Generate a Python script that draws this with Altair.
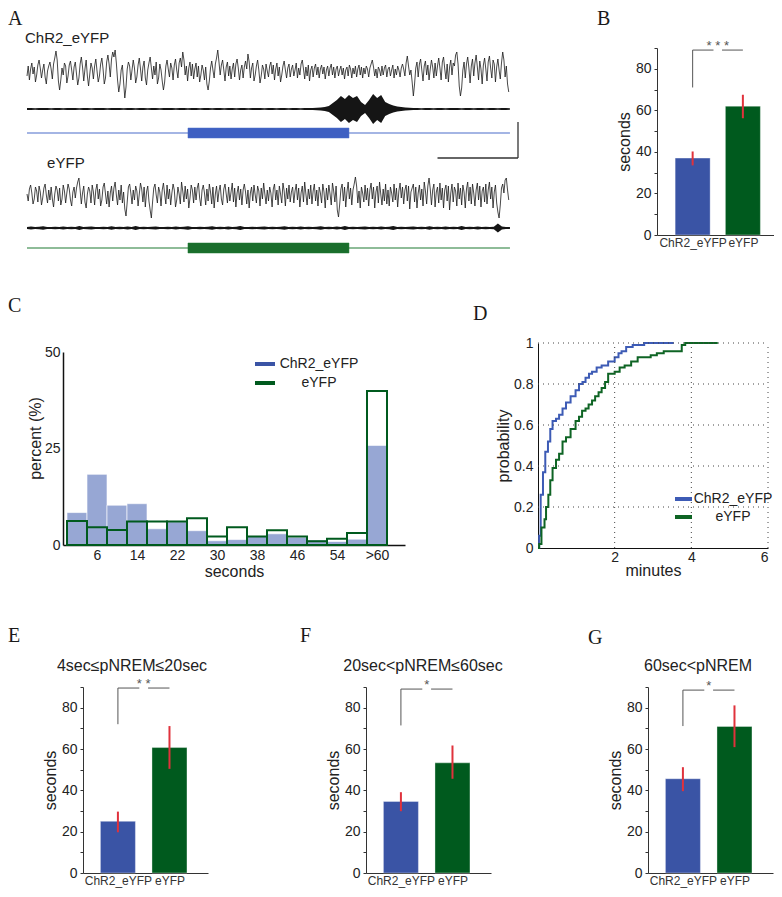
import altair as alt
import pandas as pd

FONT = "Liberation Sans"
SERIF = "Liberation Serif"
INK = "#222222"
BLUE = "#3A54A5"
GREEN = "#005A1E"
RED = "#E0323C"
HIST_BLUE = "#97A7D4"
STIM_BLUE = "#4A6CC9"
STIM_GREEN = "#1E7A32"
BRACKET_GRAY = "#555555"
D_BLUE = "#3D5BB5"
D_GREEN = "#0E6424"
GROUPS = ["ChR2_eYFP", "eYFP"]

# ---------------- Panel A : example traces ----------------
EEG_DT = 0.15
EEG_CHR2 = [
    -4, 6, -8, 3, 9, -2, 5, -10, -3, 7, 12, 4, -6, 2, 8, -5, -12, 1, 6, 10,
    3, -7, 8, 14, 21, 12, -9, -18, -8, 4, -3, 9, 6, -11, -4, 7, 11, 2, -8, 5,
    10, -2, -13, -6, 8, 15, 5, -9, 3, 12, -4, -14, -2, 9, 4, -7, 6, 13, 1, -10,
    -4, 8, 14, 3, -12, -6, 10, 17, 8, -5, 13, 20, 15, 22, 9, -8, -20, -12, 2, 7,
    -10, -26, -15, 3, 10, 6, -8, 2, 12, 4, -11, -5, 7, 14, 3, -9, 5, 11, -6, -13,
    2, 9, 15, 4, -7, 6, -3, 10, -12, -6, 8, 2, -9, -18, -10, 6, 12, 3, -5, 9,
    4, -8, 7, 13, 2, -6, 9, 14, 5, 20, 12, -3, 6, -9, 4, 10, -4, 8, -7, 3,
    9, -5, 6, -10, -3, 7, 2, -8, 5, -12, -18, -9, 4, 11, 2, -6, 8, 14, 22, 10,
    -3, 7, 12, 2, -9, 5, 10, -4, 6, -7, 3, 9, -5, 8, 13, 4, -8, 2, 7, -6,
    5, 11, 3, 18, 10, -6, 4, 9, -9, -3, 6, 12, 2, -11, -4, 7, 3, -7, 8, 1,
    -5, 6, 10, -2, 7, -8, 3, 9, -4, 5, -10, -3, 6, 11, 2, -6, 4, 8, -5, 3,
    7, -4, 2, 9, -6, 4, -3, 8, 12, 3, -7, 5, -4, 7, -9, 2, 6, -5, 4, 8,
    -3, 5, -6, 3, 7, -2, 5, -7, 2, 6, -4, 4, 8, -3, 5, -6, 3, 6, -4, 2,
    6, -3, 4, -7, 2, 5, -4, 7, 3, -6, 4, -2, 6, -5, 3, 7, -3, 5, -6, 4,
    -2, 6, 3, -5, 4, 8, 12, 5, -4, 3, -6, 5, 2, -4, 6, -3, 4, 7, -5, 3,
    5, -4, 2, 7, -6, 3, -3, 6, 2, -5, 4, 8, 3, -4, 9, 16, 6, -3, 2, -10,
    -24, -12, 4, 10, -5, 8, 13, 2, -9, 6, 11, -3, 7, -8, 3, 12, 5, -6, 9, -4,
    6, 14, 4, -8, 10, 15, 3, -7, 8, -10, 5, 12, -3, 9, 6, 17, 20, 8, -14, -24,
    -16, 2, 10, -6, 8, 15, 4, -11, 6, 13, -4, 9, 17, 5, -8, 11, 3, -12, 7, 14,
    3, -9, 10, 16, 4, -6, 12, 8, -10, 5, 13, 2, -7, 9, 20, 12, -5, 6, -12, -20,
]
EEG_EYFP = [
    2, -5, 7, 11, 3, -8, -3, 9, 5, -6, 10, 4, -9, -2, 8, 12, 1, -7, 6, -4,
    9, -3, -11, 2, 10, 6, -5, 8, -9, -3, 11, 5, -7, 3, 12, 7, -4, -10, 4, 9,
    -2, 8, 14, 18, 6, -8, 3, 10, -6, -12, 2, 9, 5, -7, 11, 4, -9, 6, 12, -3,
    7, -10, -4, 9, 13, 2, -8, 5, -11, 3, 10, -5, 8, 14, 1, -9, 6, -4, 11, -7,
    4, -13, -20, -6, 9, 12, 3, -8, 6, -4, 10, 5, -10, 2, 13, 7, -6, 9, -11, 4,
    10, -5, -14, -22, -6, 8, 12, 1, -7, 9, 4, -10, 6, 13, 2, -8, 11, -3, 7, -9,
    3, 12, 6, -11, -4, 9, 2, -8, 14, 5, -6, 10, -3, 7, -12, -2, 11, 6, -7, 9,
    -4, 8, 13, -2, -10, 6, 11, 3, -9, 7, -5, 12, 4, -8, 9, -12, 2, 10, -6, 5,
    11, -3, -9, 7, 12, 2, -7, 9, -5, 4, 13, -6, 8, -11, 3, 10, -4, 7, -9, 6,
    12, 4, -8, 6, -12, 3, 9, -5, 11, 1, -7, 10, 5, -10, 8, -3, 13, 2, -8, 6,
    -5, 9, 3, -11, 7, 12, -4, 6, -9, 10, 2, -7, 13, 5, -10, 8, -3, 11, -6, 4,
    9, -7, 5, 12, -4, 8, -11, 3, 10, -6, 14, 2, -9, 7, -3, 11, -8, 5, 12, -5,
    6, -10, 9, 3, -7, 12, 4, -12, 8, -4, 11, 2, -9, 13, 5, -6, 10, -14, -21, -8,
    7, 12, -5, 9, -11, 4, 14, -3, 8, -9, 6, 12, 19, 10, -7, 5, -12, 9, 3, -6,
    11, -4, 8, -10, 6, 13, -3, 9, -12, 4, 10, -7, 14, 2, -9, 7, -5, 12, -8, 6,
    -10, 9, 3, -6, 12, -4, 8, -11, 5, 13, -2, 9, -8, 6, 11, -5, 10, -13, 4, 8,
    12, -6, 9, -12, 3, 11, -4, 7, -10, 14, 5, -8, 10, 18, 7, -9, 6, 12, -11, 4,
    9, -7, 13, -4, 8, -12, 6, 11, -5, 10, -14, 3, 12, -6, 9, 5, -10, 13, -3, 8,
    -9, 11, 4, -12, 7, 14, -5, 9, -8, 12, 3, -10, 6, 13, -4, 10, -11, 5, 9, -6,
    12, -8, 6, 14, -3, 9, -12, 4, 11, -7, -16, -22, -9, 8, 12, 3, 16, 18, 6, -4,
]
EMG_DT = 0.5
EMG_CHR2 = [
    0.9, 1.0, 0.8, 0.9, 1.0, 0.9, 0.8, 1.0, 0.9, 0.8, 0.9, 1.0, 0.9, 0.8, 1.0, 0.9, 0.8, 0.9,
    1.0, 0.9, 0.8, 0.9, 0.9, 1.0, 0.8, 0.9, 0.9, 0.8, 1.0, 0.9, 0.8, 0.9, 0.9, 0.8, 1.0, 0.9,
    0.9, 0.8, 0.9, 1.0, 0.8, 0.9, 0.9, 0.8, 0.9, 1.0, 0.8, 0.9, 0.9, 0.8, 0.9, 1.0, 0.8, 0.9,
    0.9, 0.8, 0.9, 0.9, 1.0, 0.8, 0.9, 0.9, 0.8, 0.9, 1.0, 0.8, 0.9, 0.9, 0.8, 0.9, 0.9, 1.0,
    1.2, 1.5, 2.0, 3.0, 6, 9, 13, 10, 14, 11, 13, 7, 4, 9, 15, 11, 14, 7, 5, 3.5, 2.5, 2.0, 1.5, 1.2,
    1.0, 0.9, 0.8, 1.0, 0.9, 0.8, 0.9, 0.9, 0.8, 1.0, 0.9, 0.9, 0.8, 0.9, 0.9, 0.8, 1.0, 0.9,
    0.8, 0.9, 0.9, 0.8, 0.9, 0.9, 0.8,
]
EMG_EYFP = [
    1.1, 1.4, 1.0, 1.2, 1.8, 1.1, 1.0, 1.3, 1.1, 1.6, 1.0, 1.2, 1.1, 2.0, 1.0, 1.2, 1.4, 1.1,
    1.0, 1.3, 1.1, 1.7, 1.0, 1.2, 1.1, 1.4, 1.0, 1.9, 1.1, 1.2, 1.0, 1.3, 1.6, 1.1, 1.0, 1.2,
    1.1, 1.4, 1.0, 1.2, 1.8, 1.1, 1.0, 1.3, 1.1, 1.2, 1.7, 1.0, 1.2, 1.1, 1.4, 1.0, 1.2, 2.0,
    1.1, 1.0, 1.3, 1.1, 1.2, 1.6, 1.0, 1.2, 1.1, 1.3, 1.8, 1.0, 1.2, 1.1, 1.4, 1.0, 1.3, 1.1,
    1.2, 1.7, 1.0, 1.2, 1.1, 1.4, 1.0, 1.9, 1.1, 1.2, 1.0, 1.3, 1.6, 1.1, 1.2, 1.0, 1.4, 1.1,
    1.2, 2.0, 1.0, 1.3, 1.1, 1.2, 1.6, 1.0, 1.2, 1.1, 1.8, 1.0, 1.3, 1.1, 1.4, 1.0, 1.2, 1.1,
    1.9, 1.1, 1.2, 1.0, 1.4, 1.1, 1.2, 1.0, 1.3, 4.5, 1.4, 1.1, 1.0,
]
TRACE_END = 60
STIM_WINDOW = [20, 40]
SCALE_BAR_SEC = 10
SCALE_BAR_AMP = 36

# ---------------- Panels B, E, F, G : mean +/- error ----------------
B_MEAN, B_LO, B_HI = [37, 62], [33.5, 56.2], [40.2, 67.5]
B_BRACKET, B_STARS = [71, 89], "* * *"
E_MEAN, E_LO, E_HI = [25, 60.7], [19.7, 50.4], [29.7, 71.1]
E_BRACKET, E_STARS = [72, 89.5], "* *"
F_MEAN, F_LO, F_HI = [34.6, 53.3], [29.9, 45.6], [39.1, 61.7]
F_BRACKET, F_STARS = [71.4, 89], "*"
G_MEAN, G_LO, G_HI = [45.6, 70.9], [39.6, 60.9], [51.2, 81.1]
G_BRACKET, G_STARS = [71.1, 88.5], "*"
BAR_TICKS = [0, 10, 20, 30, 40, 50, 60, 70, 80, 90]

# ---------------- Panel C : histogram (percent) ----------------
C_BIN_EDGES = [0, 4, 8, 12, 16, 20, 24, 28, 32, 36, 40, 44, 48, 52, 56, 60, 64]
C_CHR2 = [8.4, 18.3, 10.3, 10.7, 4.2, 6.0, 3.7, 1.1, 1.4, 2.2, 2.9, 2.0, 1.3, 0.9, 1.5, 25.8]
C_EYFP = [6.2, 4.6, 3.9, 6.1, 6.1, 6.1, 6.9, 2.2, 4.6, 2.2, 3.8, 2.2, 1.0, 1.6, 3.1, 39.9]
C_TICKS = [6, 14, 22, 30, 38, 46, 54, 62]
C_TICK_LABELS = ["6", "14", "22", "30", "38", "46", "54", ">60"]

# ---------------- Panel D : cumulative probability ----------------
D_CHR2_T = [0, 0.03, 0.07, 0.13, 0.19, 0.26, 0.32, 0.38, 0.47, 0.55, 0.64, 0.73, 0.85, 0.98,
            1.07, 1.16, 1.24, 1.33, 1.41, 1.53, 1.66, 1.83, 2.0, 2.1, 2.18, 2.3, 2.47, 2.77, 3.54]
D_CHR2_P = [0, 0.06, 0.26, 0.37, 0.47, 0.52, 0.58, 0.62, 0.63, 0.65, 0.68, 0.71, 0.74, 0.77,
            0.80, 0.81, 0.83, 0.85, 0.86, 0.88, 0.89, 0.91, 0.93, 0.95, 0.96, 0.98, 0.99, 1.0, 1.0]
D_EYFP_T = [0, 0.03, 0.09, 0.17, 0.21, 0.27, 0.32, 0.38, 0.47, 0.55, 0.64, 0.73, 0.85, 0.98,
            1.07, 1.15, 1.24, 1.32, 1.41, 1.49, 1.58, 1.66, 1.75, 1.83, 2.0, 2.13, 2.26, 2.43,
            2.6, 2.77, 2.94, 3.1, 3.28, 3.67, 3.75, 3.84, 4.69]
D_EYFP_P = [0, 0.02, 0.10, 0.14, 0.20, 0.26, 0.33, 0.39, 0.43, 0.46, 0.52, 0.54, 0.58, 0.62,
            0.64, 0.67, 0.68, 0.70, 0.72, 0.74, 0.76, 0.78, 0.81, 0.85, 0.86, 0.88, 0.89, 0.91,
            0.93, 0.93, 0.94, 0.95, 0.96, 0.96, 0.99, 1.0, 1.0]
D_TICKS_Y = [0, 0.2, 0.4, 0.6, 0.8, 1]
D_GRID_Y = [0.2, 0.4, 0.6, 0.8, 1]
D_TICKS_X = [2, 4, 6]

# ---------------- layout (pixel ranges inside one shared plot area) ----------------
W, H = 766, 881
A_XR, A_YR = [19, 510], [250, 20]
B_XR, B_YR = [649, 766], [227, 40]
C_XR, C_YR = [55, 397], [537, 344]
D_XR, D_YR = [530, 760], [540, 335]
E_XR, F_XR, G_XR = [75, 200], [358, 483], [640, 765]
EFG_YR = [865, 679]


def one(**cols):
    return pd.DataFrame({k: [v] for k, v in cols.items()})


def letter(ch, x, y):
    return alt.Chart(one(label=ch)).mark_text(
        font=SERIF, fontSize=20, align="left", baseline="alphabetic", color="#1a1a1a"
    ).encode(x=alt.value(x), y=alt.value(y), text="label:N")


def caption(txt, cx, cy, size=16):
    return alt.Chart(one(label=txt)).mark_text(
        font=FONT, fontSize=size, align="center", baseline="alphabetic", color=INK
    ).encode(x=alt.value(cx), y=alt.value(cy), text="label:N")


def manual_legend(x0, x1, y0, gap, tx, colors):
    layers = []
    for i, (g, c) in enumerate(zip(GROUPS, colors)):
        yy = y0 + i * gap
        layers.append(alt.Chart(one(label=g)).mark_rule(color=c, strokeWidth=4).encode(
            x=alt.value(x0), x2=alt.value(x1), y=alt.value(yy)))
        layers.append(alt.Chart(one(label=g)).mark_text(
            font=FONT, fontSize=14, align="center", baseline="middle", color=INK
        ).encode(x=alt.value(tx), y=alt.value(yy), text="label:N"))
    return layers


# ---------------- panel A ----------------
ROW = dict(eeg1=-44, emg1=-81, stim1=-105, eeg2=-168, emg2=-200, stim2=-220)
STIM_HALF = 5
A_YDOM = [-230, 0]


def xa(field="t"):
    return alt.X(f"{field}:Q", scale=alt.Scale(domain=[0, TRACE_END + 1], range=A_XR,
                                              nice=False, zero=False), axis=None)


def ya(field):
    return alt.Y(f"{field}:Q", scale=alt.Scale(domain=A_YDOM, range=A_YR, nice=False,
                                              zero=False), axis=None)


def eeg_layer(values, offset):
    df = pd.DataFrame({"t": [i * EEG_DT for i in range(len(values))],
                       "y": [v + offset for v in values]})
    return alt.Chart(df).mark_line(color="#1a1a1a", strokeWidth=0.8).encode(x=xa(), y=ya("y"))


def emg_layer(values, offset):
    df = pd.DataFrame({"t": [i * EMG_DT for i in range(len(values))],
                       "lo": [offset - v for v in values],
                       "hi": [offset + v for v in values]})
    return alt.Chart(df).mark_area(color="#151515").encode(x=xa(), y=ya("lo"), y2="hi:Q")


def stim_layers(offset, line_color, block_color):
    base = alt.Chart(one(t0=0, t1=TRACE_END, y=offset)).mark_rule(
        color=line_color, strokeWidth=1.2).encode(x=xa("t0"), x2="t1:Q", y=ya("y"))
    block = alt.Chart(one(t0=STIM_WINDOW[0], t1=STIM_WINDOW[1],
                          y0=offset - STIM_HALF, y1=offset + STIM_HALF)).mark_rect(
        color=block_color, stroke=line_color, strokeWidth=0.5).encode(
        x=xa("t0"), x2="t1:Q", y=ya("y0"), y2="y1:Q")
    return [base, block]


sb_right = TRACE_END + 1
sb_top = ROW["stim1"] + 11
sb = one(t0=sb_right - SCALE_BAR_SEC, t1=sb_right, ytop=sb_top, ybot=sb_top - SCALE_BAR_AMP)
sb_v = alt.Chart(sb).mark_rule(color="#333", strokeWidth=1.3).encode(
    x=xa("t1"), y=ya("ytop"), y2="ybot:Q")
sb_h = alt.Chart(sb).mark_rule(color="#333", strokeWidth=1.3).encode(
    x=xa("t0"), x2="t1:Q", y=ya("ybot"))

a_labels = alt.Chart(pd.DataFrame({"t": [-0.25, 2.5], "y": [-10, -135], "label": GROUPS})).mark_text(
    font=FONT, fontSize=15, align="left", baseline="middle", color=INK
).encode(x=xa(), y=ya("y"), text="label:N")

panel_a = alt.layer(
    eeg_layer(EEG_CHR2, ROW["eeg1"]), emg_layer(EMG_CHR2, ROW["emg1"]),
    *stim_layers(ROW["stim1"], STIM_BLUE, "#3F60C2"),
    eeg_layer(EEG_EYFP, ROW["eeg2"]), emg_layer(EMG_EYFP, ROW["emg2"]),
    *stim_layers(ROW["stim2"], STIM_GREEN, "#1A6E2C"),
    sb_v, sb_h, a_labels, letter("A", 0, 17),
)


# ---------------- bar panels ----------------
def bar_panel(mean, lo, hi, bracket, stars, xr, yr, xdom, lt, title=None):
    df = pd.DataFrame({"pos": [1, 2], "group": GROUPS, "mean": mean, "lo": lo, "hi": hi})
    xs = alt.Scale(domain=xdom, range=xr, nice=False, zero=False)
    ys = alt.Scale(domain=[0, BAR_TICKS[-1]], range=yr, nice=False, zero=True)
    x_axis = alt.Axis(orient="bottom", offset=yr[0] - H, values=[1, 2],
                      labelExpr=f"datum.value == 1 ? '{GROUPS[0]}' : '{GROUPS[1]}'",
                      ticks=False, grid=False, title=None, labelFontSize=12, labelPadding=2,
                      domainColor="#333", labelColor="#333")
    y_axis = alt.Axis(orient="left", offset=-xr[0], values=BAR_TICKS,
                      labelExpr="datum.value % 20 == 0 ? datum.label : ''",
                      grid=False, tickSize=3, labelPadding=3, title="seconds",
                      titleFontSize=16, labelFontSize=14, titlePadding=3, domainColor="#333")
    bars = alt.Chart(df).mark_bar(size=35, stroke="white", strokeOpacity=0.35, strokeWidth=1).encode(
        x=alt.X("pos:Q", scale=xs, axis=x_axis),
        y=alt.Y("mean:Q", scale=ys, axis=y_axis),
        color=alt.Color("group:N", scale=alt.Scale(domain=GROUPS, range=[BLUE, GREEN]), legend=None),
    )
    errs = alt.Chart(df).mark_rule(color=RED, strokeWidth=2).encode(
        x=alt.X("pos:Q", scale=xs), y=alt.Y("lo:Q", scale=ys), y2="hi:Q")
    vert = alt.Chart(one(pos=1, lo=bracket[0], hi=bracket[1])).mark_rule(color=BRACKET_GRAY).encode(
        x=alt.X("pos:Q", scale=xs), y=alt.Y("lo:Q", scale=ys), y2="hi:Q")
    gap = 0.085
    hdf = pd.DataFrame({"pos": [1, 1.5 + gap], "pos2": [1.5 - gap, 2], "mean": [bracket[1]] * 2})
    horiz = alt.Chart(hdf).mark_rule(color=BRACKET_GRAY).encode(
        x=alt.X("pos:Q", scale=xs), x2="pos2:Q", y=alt.Y("mean:Q", scale=ys))
    star = alt.Chart(one(pos=1.5, mean=bracket[1], label=stars)).mark_text(
        font=FONT, fontSize=13, baseline="alphabetic", align="center", color=BRACKET_GRAY).encode(
        x=alt.X("pos:Q", scale=xs), y=alt.Y("mean:Q", scale=ys), text="label:N")
    layers = [bars, errs, vert, horiz, star, letter(*lt)]
    if title is not None:
        layers.append(caption(*title))
    return alt.layer(*layers)


EFG_XDOM = [0.42, 2.65]
panel_b = bar_panel(B_MEAN, B_LO, B_HI, B_BRACKET, B_STARS, B_XR, B_YR, [0.39, 2.52],
                    ("B", 589, 17))
panel_e = bar_panel(E_MEAN, E_LO, E_HI, E_BRACKET, E_STARS, E_XR, EFG_YR, EFG_XDOM,
                    ("E", 0, 634), title=("4sec≤pNREM≤20sec", 124, 663))
panel_f = bar_panel(F_MEAN, F_LO, F_HI, F_BRACKET, F_STARS, F_XR, EFG_YR, EFG_XDOM,
                    ("F", 292, 634), title=("20sec<pNREM≤60sec", 415, 663))
panel_g = bar_panel(G_MEAN, G_LO, G_HI, G_BRACKET, G_STARS, G_XR, EFG_YR, EFG_XDOM,
                    ("G", 580, 636), title=("60sec<pNREM", 690, 663))

# ---------------- panel C ----------------
c_df = pd.DataFrame({"start": C_BIN_EDGES[:-1], "end": C_BIN_EDGES[1:],
                     "chr2": C_CHR2, "eyfp": C_EYFP, "base": 0})
cxs = alt.Scale(domain=[-0.8, 67.6], range=C_XR, nice=False, zero=False)
cys = alt.Scale(domain=[0, 50], range=C_YR, nice=False, zero=True)
c_label_expr = " : ".join(f"datum.value == {v} ? '{l}'" for v, l in zip(C_TICKS, C_TICK_LABELS)) \
    + " : datum.label"
c_blue = alt.Chart(c_df).mark_rect(color=HIST_BLUE, stroke="white", strokeWidth=0.6).encode(
    x=alt.X("start:Q", scale=cxs, axis=alt.Axis(
        orient="bottom", offset=C_YR[0] - H, values=C_TICKS, labelExpr=c_label_expr,
        ticks=False, grid=False, title="seconds", titleFontSize=16, labelFontSize=14,
        labelPadding=3, titlePadding=1, domainWidth=1.5, domainColor="#111")),
    x2="end:Q",
    y=alt.Y("chr2:Q", scale=cys, axis=alt.Axis(
        orient="left", offset=-C_XR[0], values=[0, 25, 50], ticks=False, grid=False,
        labelPadding=3, title="percent (%)", titleFontSize=16, labelFontSize=14,
        titlePadding=1, titleY=430, domainWidth=1.5, domainColor="#111")),
    y2="base:Q",
)
c_green = alt.Chart(c_df).mark_rect(filled=False, color=GREEN, strokeWidth=2).encode(
    x=alt.X("start:Q", scale=cxs), x2="end:Q",
    y=alt.Y("eyfp:Q", scale=cys), y2="base:Q")
panel_c = alt.layer(
    c_blue, c_green,
    *manual_legend(247, 267, 356, 19, 311, [BLUE, GREEN]),
    letter("C", 0, 304),
)

# ---------------- panel D ----------------
dxs = alt.Scale(domain=[0, 6], range=D_XR, nice=False, zero=False)
dys = alt.Scale(domain=[0, 1], range=D_YR, nice=False, zero=True)
d_df = pd.concat([
    pd.DataFrame({"t": D_CHR2_T, "p": D_CHR2_P, "group": GROUPS[0]}),
    pd.DataFrame({"t": D_EYFP_T, "p": D_EYFP_P, "group": GROUPS[1]}),
])
d_lines = alt.Chart(d_df).mark_line(interpolate="step-after", strokeWidth=2).encode(
    x=alt.X("t:Q", scale=dxs, axis=alt.Axis(
        orient="bottom", offset=D_YR[0] - H, values=D_TICKS_X, format="~g", grid=False,
        ticks=False, labelPadding=2, title="minutes", titleFontSize=16, labelFontSize=14,
        titlePadding=-2, domainColor="#111")),
    y=alt.Y("p:Q", scale=dys, axis=alt.Axis(
        orient="left", offset=-D_XR[0], values=D_TICKS_Y, format="~g", grid=False, ticks=False,
        labelPadding=5, title="probability", titleFontSize=16, labelFontSize=14, titlePadding=2,
        domainColor="#111")),
    color=alt.Color("group:N", scale=alt.Scale(domain=GROUPS, range=[D_BLUE, D_GREEN]), legend=None),
)
d_vgrid = alt.Chart(pd.DataFrame({"t": D_TICKS_X, "p": 0, "p2": 1})).mark_rule(
    color="#444", strokeDash=[1, 4], strokeWidth=1).encode(
    x=alt.X("t:Q", scale=dxs), y=alt.Y("p:Q", scale=dys), y2="p2:Q")
d_hgrid = alt.Chart(pd.DataFrame({"p": D_GRID_Y, "t": 0, "t2": 6})).mark_rule(
    color="#444", strokeDash=[1, 4], strokeWidth=1).encode(
    y=alt.Y("p:Q", scale=dys), x=alt.X("t:Q", scale=dxs), x2="t2:Q")
panel_d = alt.layer(
    d_lines, d_vgrid, d_hgrid,
    *manual_legend(667, 684, 491, 18, 725, [D_BLUE, D_GREEN]),
    letter("D", 465, 312),
)

chart = alt.layer(
    panel_a, panel_b, panel_c, panel_d, panel_e, panel_f, panel_g,
).resolve_scale(
    x="independent", y="independent", color="independent"
).properties(
    width=W, height=H, padding={"left": 0, "top": 0, "right": 0, "bottom": 0}
).configure_view(stroke=None).configure_axis(
    labelFont=FONT, titleFont=FONT, titleFontWeight="normal",
    labelColor=INK, titleColor=INK, domainColor="#222", tickColor="#333",
)

chart.save("out.html", embed_options={"renderer": "svg", "actions": False})
